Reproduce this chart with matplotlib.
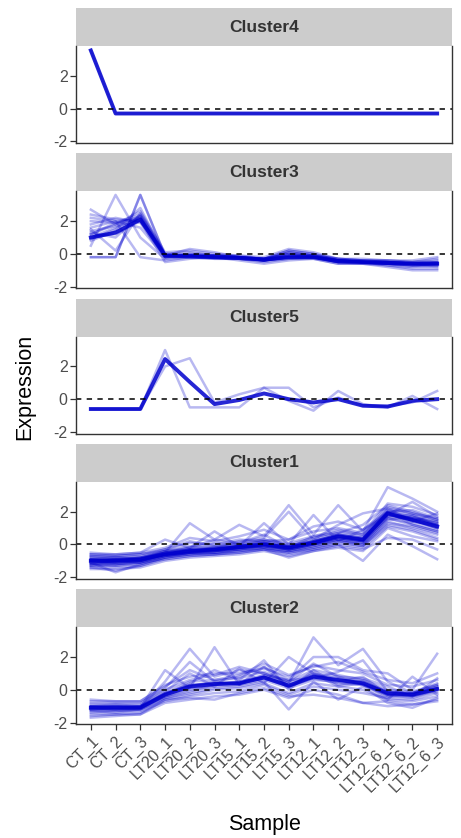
import numpy as np
import matplotlib
matplotlib.use("Agg")
import matplotlib.pyplot as plt

plt.rcParams['font.family'] = ['Liberation Sans', 'DejaVu Sans']

samples = ["CT_1", "CT_2", "CT_3", "LT20_1", "LT20_2", "LT20_3",
           "LT15_1", "LT15_2", "LT15_3", "LT12_1", "LT12_2", "LT12_3",
           "LT12_6_1", "LT12_6_2", "LT12_6_3"]

panel_order = ["Cluster4", "Cluster3", "Cluster5", "Cluster1", "Cluster2"]

# member profiles (z-scored expression) per cluster
cluster4_lines = [
    [3.55, -0.3, -0.3, -0.3, -0.3, -0.3, -0.3, -0.3, -0.3, -0.3, -0.3, -0.3, -0.3, -0.3, -0.3],
]
cluster4_center = [3.55, -0.3, -0.3, -0.3, -0.3, -0.3, -0.3, -0.3, -0.3, -0.3, -0.3, -0.3, -0.3, -0.3, -0.3]

cluster3_lines = [
    [2.7, 1.8, 2.3, -0.2, 0.0, -0.1, -0.2, -0.4, 0.1, -0.1, -0.5, -0.5, -0.7, -0.8, -0.7],
    [0.5, 3.6, 1.0, -0.3, -0.2, -0.3, -0.3, -0.5, -0.3, -0.3, -0.6, -0.6, -0.7, -0.9, -0.9],
    [1.5, 0.2, 2.5, 0.0, 0.1, -0.1, -0.1, -0.2, 0.3, 0.1, -0.3, -0.4, -0.5, -0.6, -0.5],
    [2.2, 2.0, -0.2, -0.4, -0.2, -0.3, -0.3, -0.4, -0.3, -0.2, -0.4, -0.5, -0.6, -0.7, -0.6],
    [1.2, 1.8, 2.6, 0.1, 0.2, 0.0, -0.1, -0.3, 0.2, 0.0, -0.4, -0.4, -0.5, -0.5, -0.4],
    [1.8, 2.2, 1.9, -0.2, -0.1, -0.2, -0.3, -0.4, -0.2, -0.2, -0.5, -0.5, -0.6, -0.7, -0.8],
    [0.9, 1.5, 2.8, -0.1, 0.3, 0.1, -0.2, -0.3, 0.0, -0.1, -0.3, -0.4, -0.4, -0.5, -0.3],
    [2.4, 2.1, 2.0, -0.5, -0.3, -0.2, -0.4, -0.6, -0.4, -0.3, -0.6, -0.6, -0.8, -1.0, -1.0],
    [1.3, 1.0, 2.4, 0.0, -0.1, -0.1, -0.2, -0.3, 0.2, 0.0, -0.3, -0.3, -0.4, -0.4, -0.2],
    [1.6, 2.0, 1.6, -0.2, -0.2, -0.2, -0.3, -0.4, -0.1, -0.2, -0.5, -0.6, -0.6, -0.7, -0.7],
    [1.0, 1.6, 2.2, -0.1, 0.0, -0.1, -0.2, -0.3, 0.1, -0.1, -0.4, -0.5, -0.5, -0.6, -0.6],
    [1.1, 1.2, 2.0, -0.1, -0.1, -0.2, -0.2, -0.4, -0.1, -0.2, -0.5, -0.5, -0.6, -0.6, -0.5],
    [0.8, 1.4, 2.3, -0.2, -0.1, -0.2, -0.3, -0.3, 0.0, -0.2, -0.4, -0.5, -0.5, -0.6, -0.7],
    [2.0, 1.9, 2.4, -0.1, -0.2, -0.1, -0.2, -0.3, 0.0, -0.1, -0.3, -0.4, -0.4, -0.5, -0.5],
    [1.4, 1.7, 2.1, -0.2, -0.1, -0.2, -0.2, -0.4, -0.2, -0.2, -0.4, -0.5, -0.6, -0.6, -0.6],
    [1.2, 1.9, 2.2, -0.1, -0.1, -0.1, -0.2, -0.3, -0.1, -0.1, -0.4, -0.5, -0.6, -0.7, -0.6],
    [-0.2, -0.2, 3.6, -0.1, -0.1, -0.2, -0.2, -0.4, -0.2, -0.2, -0.4, -0.5, -0.5, -0.6, -0.6],
    [-0.2, -0.2, 3.6, -0.1, -0.1, -0.2, -0.2, -0.4, -0.2, -0.2, -0.4, -0.5, -0.5, -0.6, -0.6],
]
cluster3_center = [1.0, 1.3, 2.1, -0.1, -0.15, -0.2, -0.25, -0.35, -0.2, -0.2, -0.45, -0.5, -0.55, -0.6, -0.6]

cluster5_lines = [
    [-0.6, -0.6, -0.6, 3.0, -0.5, -0.5, -0.5, 0.7, -0.1, -0.7, 0.5, -0.3, -0.5, 0.2, -0.6],
    [-0.6, -0.6, -0.6, 2.0, 2.5, -0.2, 0.3, 0.7, 0.7, -0.5, 0.1, -0.4, -0.4, -0.2, 0.5],
]
cluster5_center = [-0.6, -0.6, -0.6, 2.45, 1.05, -0.3, -0.05, 0.35, 0.0, -0.2, 0.0, -0.4, -0.45, -0.1, 0.0]

cluster1_lines = [
    [-1.0, -1.1, -1.0, -0.6, -0.5, -0.4, -0.2, 0.0, -0.3, 0.0, 0.4, 0.2, 1.9, 1.6, 1.2],
    [-0.6, -0.7, -0.6, -0.3, 0.2, -0.1, 0.1, 0.3, 0.0, 0.4, 0.8, 0.6, 2.3, 1.9, 1.6],
    [-1.4, -1.6, -1.3, -0.9, -0.7, -0.6, -0.5, -0.3, -0.5, -0.2, 0.1, -0.1, 1.2, 0.9, 0.4],
    [-1.2, -1.2, -1.1, -0.7, -0.6, -0.4, -0.3, -0.1, -0.4, -0.1, 0.3, 0.0, 1.6, 1.3, 0.9],
    [-0.8, -0.9, -0.8, -0.4, -0.3, -0.2, 0.0, 0.2, -0.1, 0.2, 0.6, 0.4, 2.1, 1.8, 1.4],
    [-0.5, -0.6, -0.5, 0.3, -0.2, 0.8, -0.1, 1.3, 0.0, 1.8, 0.2, 0.9, 2.0, 1.2, 0.8],
    [-1.0, -1.0, -0.9, -0.5, 1.3, 0.3, 1.2, 0.5, 2.4, 0.6, 2.4, 0.8, 3.5, 2.8, 2.0],
    [-1.1, -1.7, -1.2, -0.8, -0.5, -0.5, -0.4, -0.2, -0.6, -0.3, 0.0, -1.0, 0.6, -0.1, -0.9],
    [-0.9, -1.0, -0.8, -0.5, -0.2, 0.3, 0.1, 0.6, -0.2, 0.5, 0.7, 1.2, 2.4, 2.0, 1.5],
    [-1.3, -1.3, -1.2, -0.8, -0.6, -0.5, -0.3, -0.2, -0.4, -0.2, 0.2, -0.1, 1.4, 1.0, 0.6],
    [-0.7, -0.8, -0.7, -0.3, 0.1, 0.0, 0.3, 0.2, 0.3, 0.8, 1.0, 0.7, 2.5, 2.3, 1.8],
    [-1.0, -0.9, -1.0, -0.6, -0.4, -0.3, -0.1, 0.1, -0.2, 0.1, 0.5, 0.3, 1.8, 1.5, 1.0],
    [-1.2, -1.1, -1.0, -0.7, -0.5, -0.3, -0.2, -0.1, -0.3, 0.0, 0.3, 0.1, 1.5, 1.7, 1.3],
    [-0.8, -0.8, -0.9, -0.4, -0.1, -0.2, 0.2, 0.4, 2.0, 0.3, 1.2, 1.9, 2.2, 1.4, 1.9],
    [-1.5, -1.5, -1.4, -1.0, -0.8, -0.7, -0.6, -0.4, -0.7, -0.4, -0.1, -0.3, 0.4, 0.3, -0.3],
    [-1.1, -1.0, -1.0, -0.6, -0.3, -0.4, -0.1, 0.0, -0.1, 0.2, 0.6, 0.3, 2.0, 1.6, 1.3],
    [-0.9, -1.0, -0.9, -0.5, -0.4, -0.2, -0.1, 0.1, -0.2, 0.1, 0.4, 0.2, 1.7, 1.8, 1.1],
    [-1.0, -1.2, -1.0, -0.7, -0.5, -0.4, -0.2, -0.1, -0.3, 0.0, 0.4, 0.2, 1.6, 1.2, 0.8],
    [-0.6, -0.6, -0.5, -0.2, 0.4, 0.2, 0.5, 0.9, 0.3, 1.1, 1.4, 0.9, 1.8, 2.6, 1.7],
    [-1.3, -1.2, -1.1, -0.9, -0.7, -0.6, -0.5, -0.3, -0.8, -0.4, -0.2, -0.4, 1.0, 0.5, 0.2],
    [-0.9, -0.9, -0.8, -0.5, -0.3, -0.1, -0.1, 0.2, -0.1, 0.3, 0.7, 0.5, 2.2, 1.9, 1.5],
    [-1.1, -1.1, -1.0, -0.6, -0.5, -0.3, -0.2, -0.1, -0.2, 0.1, 0.5, 0.2, 1.9, 1.4, 1.2],
    [-1.0, -0.9, -0.9, -0.6, -0.4, -0.4, -0.3, 0.0, -0.3, 0.0, 0.3, 0.1, 1.7, 1.5, 1.0],
    [-1.2, -1.3, -1.1, -0.7, -0.5, -0.5, -0.3, -0.2, -0.4, -0.1, 0.2, 0.0, 1.3, 1.1, 0.7],
    [-1.4, -1.4, -1.3, -0.8, -0.6, -0.6, -0.4, -0.3, -0.5, -0.3, 0.0, -0.2, 1.1, 0.8, 0.3],
    [-0.7, -0.7, -0.6, -0.4, -0.2, 0.1, 0.0, 0.3, 0.1, 0.5, 0.9, 0.6, 2.0, 2.1, 1.6],
    [-1.2, -1.0, -1.1, -0.6, -0.4, -0.3, -0.2, 0.0, -0.2, 0.2, 0.6, 0.4, 1.8, 1.6, 1.4],
    [-0.9, -0.8, -0.8, -0.5, -0.3, -0.3, -0.1, 0.1, -0.1, 0.2, 0.5, 0.3, 2.0, 1.7, 1.2],
]
cluster1_center = [-1.0, -1.0, -0.9, -0.6, -0.4, -0.3, -0.15, 0.0, -0.2, 0.1, 0.5, 0.3, 1.9, 1.5, 1.1]

cluster2_lines = [
    [-1.0, -1.0, -1.0, -0.2, 0.3, 0.4, 0.5, 0.8, 0.3, 0.9, 0.7, 0.5, -0.1, -0.2, 0.1],
    [-1.5, -1.5, -1.4, -0.6, -0.3, 0.0, 0.1, 0.4, -0.2, 0.4, 0.2, 0.0, -0.6, -0.7, -0.4],
    [-0.6, -0.7, -0.7, 0.3, 0.8, 1.0, 1.0, 1.3, 0.8, 1.5, 1.2, 1.0, 0.3, 0.2, 0.6],
    [-1.2, -1.2, -1.1, 1.2, 0.1, 2.6, 0.3, 1.4, 0.2, 1.0, 0.5, 0.8, -0.3, -0.5, 0.0],
    [-1.1, -1.0, -1.1, 0.5, 2.5, 0.8, 1.2, 1.0, 0.4, 3.2, 1.5, 2.5, 0.5, -0.2, 0.3],
    [-1.3, -1.3, -1.2, -0.5, -0.2, 0.1, 0.2, 0.5, -1.2, 0.5, -0.6, 0.2, -0.8, -1.1, -0.5],
    [-0.9, -0.9, -0.9, 0.1, 1.7, 0.5, 0.8, 1.4, 0.6, 2.0, 2.0, 1.2, 1.0, 0.0, 2.2],
    [-1.7, -1.6, -1.5, -0.8, -0.6, -0.4, -0.3, 0.0, -0.5, 0.0, -0.3, -0.8, -1.0, -0.9, -0.7],
    [-1.0, -1.1, -1.1, -0.3, 0.4, 1.2, 0.6, 1.8, 0.0, 1.2, 0.3, 0.6, -0.4, -0.2, 0.4],
    [-1.2, -1.1, -1.1, -0.4, 0.0, 0.2, 0.3, 0.6, 0.1, 0.6, 0.5, 0.3, -0.3, -0.4, -0.1],
    [-0.8, -0.8, -0.8, 0.0, 0.6, 0.9, 1.4, 1.0, 0.5, 1.6, 0.8, 0.7, 0.2, -0.4, 0.7],
    [-1.4, -1.3, -1.3, -0.7, -0.4, -0.2, -0.1, 0.3, -0.3, 0.2, 0.0, -0.2, -0.5, -0.6, -0.2],
    [-1.1, -1.2, -1.1, -0.2, 0.2, 0.5, 0.3, 0.9, 0.6, 0.7, 1.1, 1.8, -0.1, -0.3, 0.2],
    [-1.0, -1.0, -1.0, -0.1, 1.0, 0.2, 1.3, 0.4, 2.0, 1.0, 0.2, 0.4, -0.6, 0.8, -0.3],
    [-1.3, -1.4, -1.2, -0.5, -0.1, 0.3, 0.4, 0.7, 0.2, 0.7, 0.4, 0.3, -0.4, -0.4, 0.0],
    [-1.6, -1.5, -1.5, -0.6, -0.5, -0.6, -0.2, 0.1, -0.4, -0.3, -0.5, -0.8, -0.7, -0.9, -0.6],
    [-0.7, -0.7, -0.7, 0.2, 1.2, 0.6, 0.9, 1.6, 0.9, 1.4, 1.7, 1.1, 0.6, 0.4, 1.0],
    [-1.1, -1.1, -1.0, -0.3, 0.3, 0.4, 0.4, 0.8, 0.2, 0.8, 0.6, 0.4, -0.2, -0.3, 0.1],
    [-1.2, -1.2, -1.2, -0.4, 0.1, 0.3, 0.5, 0.9, 0.4, 1.0, 0.8, 0.3, -0.3, -0.2, 0.2],
    [-1.0, -0.9, -1.0, -0.2, 0.5, 0.6, 0.7, 1.1, 0.5, 1.2, 0.9, 0.6, 0.0, -0.1, 0.3],
]
cluster2_center = [-1.1, -1.1, -1.1, -0.3, 0.2, 0.35, 0.4, 0.75, 0.25, 0.8, 0.6, 0.4, -0.2, -0.3, 0.05]

members = {"Cluster4": cluster4_lines, "Cluster3": cluster3_lines,
           "Cluster5": cluster5_lines, "Cluster1": cluster1_lines,
           "Cluster2": cluster2_lines}
centers = {"Cluster4": cluster4_center, "Cluster3": cluster3_center,
           "Cluster5": cluster5_center, "Cluster1": cluster1_center,
           "Cluster2": cluster2_center}

W, H = 461, 838
fig = plt.figure(figsize=(W / 100, H / 100), dpi=100)

blue = "#0000CD"
x = np.arange(len(samples))
left, right = 76, 452
strip_h, panel_h, step = 38, 97, 145.3
top0 = 8

def fig_box(top, height):
    return [left / W, 1 - (top + height) / H, (right - left) / W, height / H]

for i, name in enumerate(panel_order):
    top = top0 + i * step
    # grey facet strip
    sax = fig.add_axes(fig_box(top, strip_h))
    sax.set_facecolor("#CCCCCC")
    sax.set_xticks([])
    sax.set_yticks([])
    for s in sax.spines.values():
        s.set_visible(False)
    sax.text(0.5, 0.5, name, ha="center", va="center", fontsize=12.5,
             fontweight="bold", color="#333333", transform=sax.transAxes)

    ax = fig.add_axes(fig_box(top + strip_h, panel_h))
    for line in members[name]:
        ax.plot(x, line, color=blue, alpha=0.28, lw=1.8)
    ax.plot(x, centers[name], color=blue, alpha=0.85, lw=2.8)
    ax.axhline(0, color="black", lw=1.1, ls=(0, (3.5, 3.5)))

    ax.set_xlim(-0.6, len(samples) - 0.4)
    ax.set_ylim(-2.1, 3.82)
    ax.set_yticks([-2, 0, 2])
    ax.set_yticklabels(["-2", "0", "2"])
    ax.spines["top"].set_visible(False)
    for side in ("left", "bottom", "right"):
        ax.spines[side].set_color("#333333")
        ax.spines[side].set_linewidth(1.0)
    ax.tick_params(axis="y", length=4, width=0.9, color="#333333",
                   labelcolor="#4D4D4D", labelsize=11.5, pad=2)
    if i == len(panel_order) - 1:
        ax.set_xticks(x)
        ax.set_xticklabels(samples, rotation=45, ha="right",
                           rotation_mode="anchor")
        ax.tick_params(axis="x", length=4, width=0.9, color="#333333",
                       labelcolor="#4D4D4D", labelsize=11.5, pad=3)
    else:
        ax.set_xticks([])

fig.text(25 / W, 1 - 387 / H, "Expression", rotation=90, ha="center",
         va="center", fontsize=15.5, color="black")
fig.text((left + right) / 2 / W, 1 - 824 / H, "Sample", ha="center",
         va="center", fontsize=15.5, color="black")

fig.savefig("out.png", dpi=100)
